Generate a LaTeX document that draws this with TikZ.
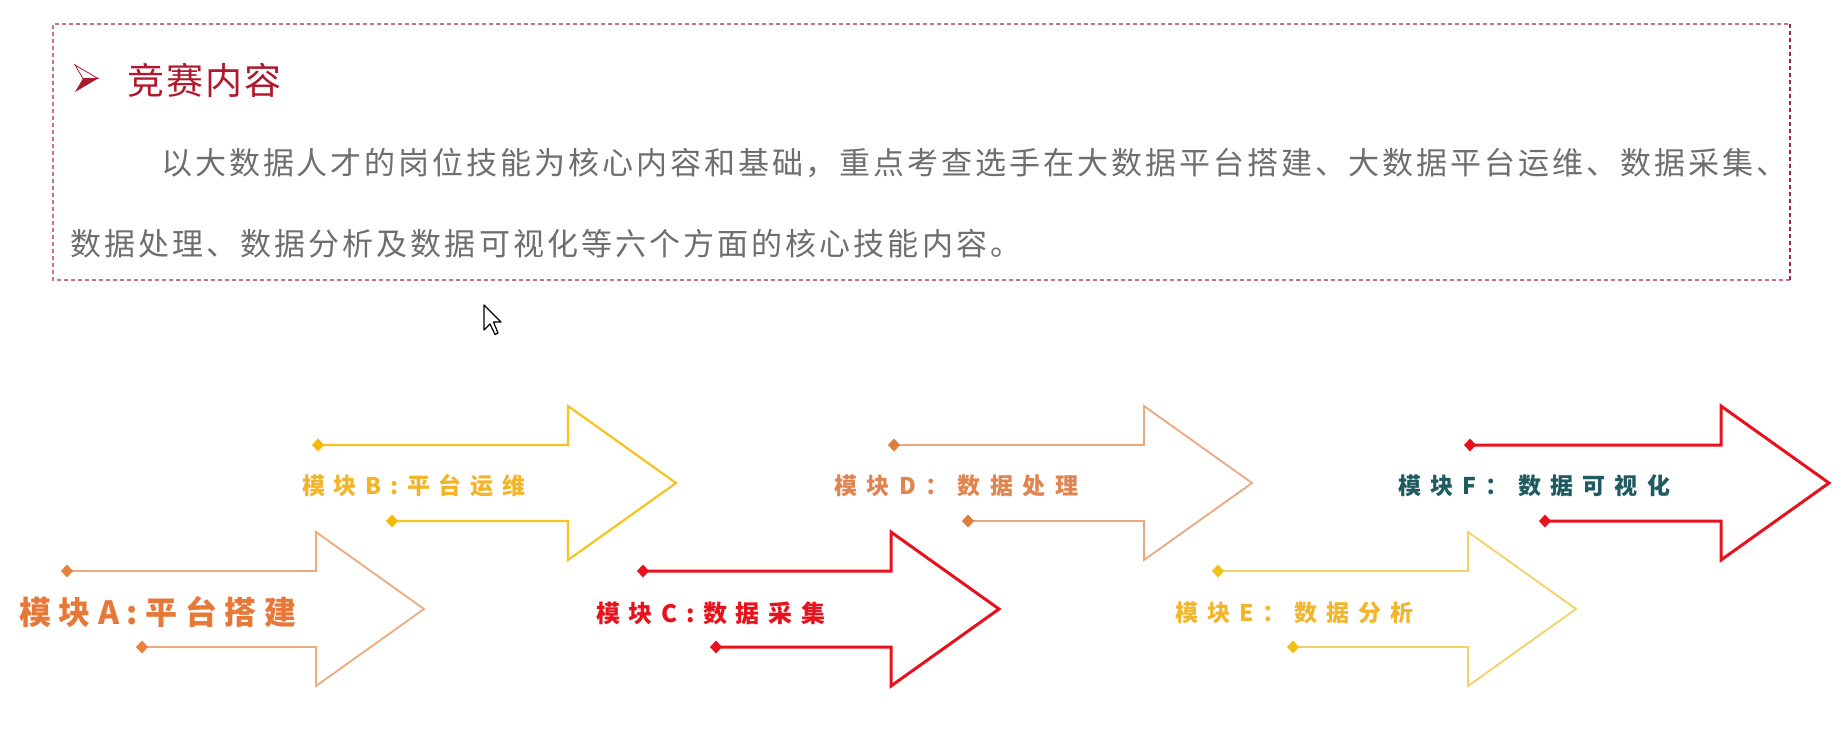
\documentclass[tikz,border=0pt]{standalone}
\usepackage{fontspec}
\newfontfamily\cjk{Noto Sans CJK SC}
\ExplSyntaxOn
\NewDocumentCommand\spreadto{mm}{\makebox[#1][s]{\tl_map_inline:nn{#2}{##1\hfil}\unskip}}
\ExplSyntaxOff
\definecolor{lineA}{RGB}{236,170,125}
\definecolor{diaA}{RGB}{232,130,60}
\definecolor{labA}{RGB}{232,120,56}
\definecolor{lineB}{RGB}{245,196,30}
\definecolor{diaB}{RGB}{245,185,10}
\definecolor{labB}{RGB}{242,180,40}
\definecolor{redC}{RGB}{232,18,28}
\definecolor{lineD}{RGB}{234,168,128}
\definecolor{diaD}{RGB}{222,125,60}
\definecolor{labD}{RGB}{224,132,80}
\definecolor{lineE}{RGB}{242,210,100}
\definecolor{diaE}{RGB}{242,192,20}
\definecolor{labE}{RGB}{242,182,45}
\definecolor{labF}{RGB}{30,90,95}
\definecolor{boxpink}{RGB}{198,112,150}
\definecolor{boxdark}{RGB}{160,30,80}
\definecolor{bodygray}{RGB}{110,110,110}
\definecolor{titlered}{RGB}{175,25,45}
\newcommand\blockarrow[8]{%
  \coordinate (#1t) at (#4,#3-38);
  \coordinate (#1b) at (#5,#3+38);
  \draw[line width=#8, draw=#6, line join=miter]
    (#1t) -- (#2,#3-38) -- (#2,#3-77) -- (#2+108,#3) -- (#2,#3+77) -- (#2,#3+38) -- (#1b);
  \fill[#7] (#1t) ++(-6,0) -- ++(6,-6.5) -- ++(6,6.5) -- ++(-6,6.5) -- cycle;
  \fill[#7] (#1b) ++(-6,0) -- ++(6,-6.5) -- ++(6,6.5) -- ++(-6,6.5) -- cycle;
}
\tikzset{
  lab/.style={anchor=west, inner sep=0pt, font=\cjk\bfseries\fontsize{23}{23}\selectfont},
  body/.style={anchor=west, inner sep=0pt, text=bodygray, font=\cjk\fontsize{31}{31}\selectfont},
  boxline/.style={line width=1.4pt, dash pattern=on 4pt off 3pt}
}
\begin{document}
\begin{tikzpicture}[x=1pt,y=-1pt]
\useasboundingbox[fill=white] (0,0) rectangle (1845,748);
% frame
\draw[boxline, draw=boxpink] (1790,280) -- (53,280) -- (53,24) -- (1790,24);
\draw[boxline, draw=boxdark] (1790,24) -- (1790,280);
% bullet
\filldraw[draw=titlered, fill=white, line width=0.8pt] (75,65) -- (98,78.5) -- (83,78.5) -- cycle;
\fill[titlered] (83,78.5) -- (98,78.5) -- (75,92) -- cycle;
\node[anchor=west, inner sep=0pt, text=titlered, font=\cjk\fontsize{37}{37}\selectfont] (title) at (127,80) {\spreadto{154pt}{竞赛内容}};
\node[body] (line1) at (161,163.5) {\spreadto{1626pt}{以大数据人才的岗位技能为核心内容和基础，重点考查选手在大数据平台搭建、大数据平台运维、数据采集、}};
\node[body] (line2) at (70,243.5) {\spreadto{951pt}{数据处理、数据分析及数据可视化等六个方面的核心技能内容。}};
% cursor
\filldraw[fill=white, draw=black, line width=1.2pt, line join=round]
  (484,305) -- (484,330) -- (490,324) -- (495,334.5) -- (498,333) -- (493.5,322) -- (501,322) -- cycle;
% arrows
\blockarrow{A}{316}{609}{67}{142}{lineA}{diaA}{1.8pt}
\blockarrow{B}{568}{483}{318}{392}{lineB}{diaB}{2.2pt}
\blockarrow{C}{891}{609}{643}{716}{redC}{redC}{3pt}
\blockarrow{D}{1144}{483}{894}{968}{lineD}{diaD}{1.8pt}
\blockarrow{E}{1468}{609}{1218}{1293}{lineE}{diaE}{1.8pt}
\blockarrow{F}{1721}{483}{1470}{1545}{redC}{redC}{3pt}
% labels
\node[lab, text=labA, font=\cjk\bfseries\fontsize{32}{32}\selectfont] (labA) at (19,612) {\spreadto{277pt}{模块A:平台搭建}};
\node[lab, text=labB] (labB) at (302,486) {\spreadto{223pt}{模块B:平台运维}};
\node[lab, text=redC, font=\cjk\bfseries\fontsize{24}{24}\selectfont] (labC) at (596,613) {\spreadto{229pt}{模块C:数据采集}};
\node[lab, text=labD] (labD) at (834,486) {\spreadto{244pt}{模块D：数据处理}};
\node[lab, text=labE] (labE) at (1175,613) {\spreadto{238pt}{模块E：数据分析}};
\node[lab, text=labF] (labF) at (1398,486) {\spreadto{272pt}{模块F：数据可视化}};
\end{tikzpicture}
\end{document}
